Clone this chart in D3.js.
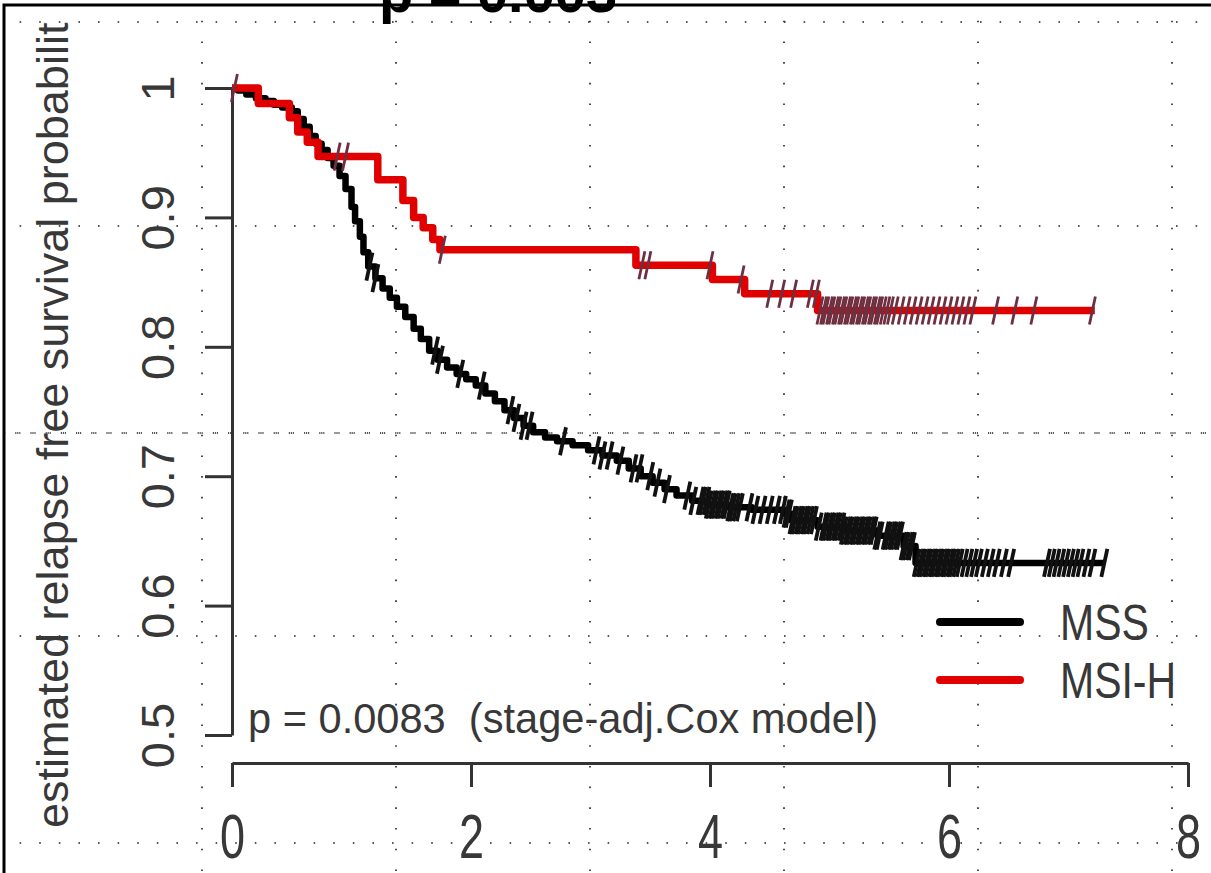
<!DOCTYPE html>
<html><head><meta charset="utf-8">
<script src="https://cdn.jsdelivr.net/npm/d3@7"></script>
<style>body{margin:0;background:#fff}svg{display:block}</style>
</head><body>
<script>
// ---------- data ----------
const xTicks = [0, 2, 4, 6, 8];
const yTicks = [0.5, 0.6, 0.7, 0.8, 0.9, 1];
const yTickLabels = ["0.5", "0.6", "0.7", "0.8", "0.9", "1"];
const seriesNames = ["MSS", "MSI-H"];
const seriesColors = ["#000000", "#e00000"];

// MSS: step event times (years) and survival after each step
const mssTimes = [0.05,0.12,0.2,0.28,0.35,0.42,0.5,0.55,0.6,0.65,0.7,0.75,0.8,0.85,0.9,0.95,1.0,1.03,1.07,1.1,1.14,1.2,1.26,1.32,1.38,1.45,1.52,1.58,1.65,1.72,1.8,1.88,1.96,2.04,2.12,2.2,2.28,2.36,2.44,2.52,2.62,2.72,2.85,2.98,3.1,3.22,3.32,3.42,3.52,3.62,3.72,3.85,3.98,4.15,4.35,4.62,4.68,4.9,5.12,5.4,5.62,5.72];
const mssSurv  = [0.998,0.995,0.992,0.99,0.987,0.985,0.982,0.976,0.97,0.963,0.957,0.952,0.946,0.94,0.932,0.922,0.908,0.897,0.885,0.873,0.862,0.853,0.845,0.838,0.831,0.823,0.814,0.806,0.797,0.79,0.784,0.779,0.775,0.77,0.764,0.758,0.751,0.745,0.739,0.734,0.73,0.727,0.724,0.72,0.716,0.712,0.706,0.7,0.695,0.69,0.685,0.681,0.678,0.676,0.674,0.671,0.666,0.661,0.658,0.654,0.646,0.633];
const mssEnd = 7.3;
const mssCensor = [1.15,1.2,1.7,1.74,1.91,2.09,2.33,2.38,2.44,2.49,2.77,3.05,3.1,3.16,3.25,3.36,3.41,3.5,3.56,3.64,3.81,3.86,
  3.92,3.94,3.97,3.99,4.02,4.04,4.07,4.09,4.12,4.14,4.17,4.19,4.22,4.25,4.33,4.38,4.44,4.5,4.56,
  4.61,4.64,4.66,4.69,4.71,4.74,4.76,4.79,4.81,4.84,4.87,4.91,
  4.95,4.97,5.0,5.02,5.05,5.07,5.1,5.12,5.15,5.17,5.2,5.22,5.25,5.27,5.3,5.32,5.35,5.37,5.4,5.42,
  5.47,5.49,5.52,5.54,5.57,5.59,5.62,5.64,5.67,5.69,
  5.73,5.76,5.78,5.81,5.83,5.86,5.88,5.91,5.93,5.96,5.98,6.01,6.03,6.06,6.09,
  6.13,6.17,6.21,6.25,6.3,6.35,6.4,6.46,6.52,
  6.82,6.86,6.9,6.94,6.98,7.02,7.06,7.1,7.15,7.2,7.3];

// MSI-H
const msiTimes = [0.22,0.48,0.55,0.63,0.72,1.22,1.43,1.52,1.6,1.68,1.74,3.38,4.02,4.29,4.9];
const msiSurv  = [0.988,0.977,0.966,0.958,0.947,0.929,0.913,0.9,0.892,0.883,0.875,0.863,0.852,0.841,0.828];
const msiEnd = 7.22;
const msiCensor = [0.02,0.88,0.95,1.76,3.43,3.48,4.0,4.26,4.5,4.6,4.7,4.84,4.89,
  4.92,4.95,4.97,5.0,5.02,5.05,5.07,5.1,5.12,5.15,5.17,5.2,5.22,5.25,5.27,5.3,5.32,5.35,5.37,5.4,5.42,5.45,5.48,5.51,
  5.55,5.6,5.65,5.7,5.75,5.8,5.85,5.9,5.95,6.0,6.05,6.1,6.15,6.2,6.39,6.55,6.71,7.2];

const pText = "p = 0.0083  (stage-adj.Cox model)";
const yTitle = "estimated relapse free survival probability";
const topTitle = "p = 0.003";

// ---------- drawing ----------
const W = 1211, H = 873;
const svg = d3.select("body").append("svg").attr("width", W).attr("height", H);
const FONT = "'Liberation Sans', Arial, sans-serif";
const TXT = "#383838";

const defs = svg.append("defs");
defs.append("clipPath").attr("id", "frame")
  .append("rect").attr("x", 5).attr("y", 6).attr("width", W).attr("height", H);
defs.append("clipPath").attr("id", "ytitle")
  .append("rect").attr("x", 0).attr("y", 22).attr("width", 120).attr("height", H);

const root = svg.append("g").attr("clip-path", "url(#frame)");
root.append("rect").attr("width", W).attr("height", H).attr("fill", "#fff");

// background dotted overlay grid
const gridX = [202, 396, 590, 784, 978, 1172];
const gridY = [22, 226, 636, 843];
root.selectAll("line.gv").data(gridX).join("line")
  .attr("x1", d => d).attr("x2", d => d).attr("y1", 0).attr("y2", H)
  .attr("stroke", "#222").attr("stroke-width", 1.6).attr("stroke-dasharray", "1.6,19.1");
root.selectAll("line.gh").data(gridY).join("line")
  .attr("x1", 0).attr("x2", W).attr("y1", d => d).attr("y2", d => d)
  .attr("stroke", "#222").attr("stroke-width", 1.6).attr("stroke-dasharray", "1.6,18");
root.append("line").attr("x1", 0).attr("x2", W).attr("y1", 433).attr("y2", 433)
  .attr("stroke", "#222").attr("stroke-width", 1.4).attr("stroke-dasharray", "1.2,0.8,1.2,0.8,1.2,10");

const x = d3.scaleLinear().domain([0, 8]).range([232, 1188]);
const y = d3.scaleLinear().domain([0.5, 1]).range([735, 88]);

// axes
const ax = root.append("g").attr("transform", "translate(0,763)")
  .call(d3.axisBottom(x).tickValues(xTicks).tickSize(24).tickSizeOuter(0).tickFormat(d3.format("d")));
ax.select(".domain").attr("stroke", "#333").attr("stroke-width", 3);
ax.selectAll(".tick line").attr("stroke", "#333").attr("stroke-width", 3);
ax.selectAll(".tick text").attr("y", 0).attr("dy", 0)
  .attr("transform", "translate(0,95) scale(1,1.38)")
  .attr("font-family", FONT).attr("font-size", 45).attr("fill", TXT);

const ay = root.append("g").attr("transform", "translate(232,0)")
  .call(d3.axisLeft(y).tickValues(yTicks).tickSize(27).tickSizeOuter(0)
    .tickFormat((d, i) => yTickLabels[i]));
ay.select(".domain").attr("stroke", "#333").attr("stroke-width", 3);
ay.selectAll(".tick line").attr("stroke", "#333").attr("stroke-width", 3);
ay.selectAll(".tick text").attr("x", null).attr("dy", null)
  .attr("transform", "translate(-58,0) rotate(-90)")
  .attr("text-anchor", "middle")
  .attr("font-family", FONT).attr("font-size", 47).attr("fill", TXT);

// curves
function stepPoints(times, surv, end) {
  const pts = [[0, 1]];
  times.forEach((t, i) => pts.push([t, surv[i]]));
  pts.push([end, surv[surv.length - 1]]);
  return pts;
}
function survAt(times, surv, t) {
  let s = 1;
  for (let i = 0; i < times.length; i++) if (times[i] <= t) s = surv[i];
  return s;
}
const line = d3.line().x(d => x(d[0])).y(d => y(d[1])).curve(d3.curveStepAfter);

const series = [
  {times: mssTimes, surv: mssSurv, end: mssEnd, cens: mssCensor, color: seriesColors[0], w: 6.5, tick: "#111", tw: 3.8},
  {times: msiTimes, surv: msiSurv, end: msiEnd, cens: msiCensor, color: seriesColors[1], w: 7.5, tick: "#6e3040", tw: 2.8}
];
series.forEach(s => {
  const g = root.append("g");
  g.append("path").datum(stepPoints(s.times, s.surv, s.end))
    .attr("fill", "none").attr("stroke", s.color).attr("stroke-width", s.w)
    .attr("stroke-linejoin", "round").attr("d", line);
  g.selectAll("line.c").data(s.cens).join("line")
    .attr("x1", d => x(d) - 3).attr("x2", d => x(d) + 3)
    .attr("y1", d => y(survAt(s.times, s.surv, d)) + 14)
    .attr("y2", d => y(survAt(s.times, s.surv, d)) - 14)
    .attr("stroke", s.tick).attr("stroke-width", s.tw);
});

// p-value text
root.append("text").attr("x", 248).attr("y", 733)
  .attr("font-family", FONT).attr("font-size", 42).attr("fill", TXT)
  .attr("textLength", 630).attr("lengthAdjust", "spacingAndGlyphs")
  .attr("xml:space", "preserve").style("white-space", "pre").text(pText);

// legend
const legY = [622, 680];
seriesNames.forEach((n, i) => {
  root.append("line").attr("x1", 940).attr("x2", 1020).attr("y1", legY[i]).attr("y2", legY[i])
    .attr("stroke", seriesColors[i]).attr("stroke-width", 8).attr("stroke-linecap", "round");
  root.append("text").attr("transform", `translate(1060,${legY[i] + 18}) scale(1,1.22)`)
    .attr("font-family", FONT).attr("font-size", 41).attr("fill", TXT).text(n);
});

// y title
root.append("g").attr("clip-path", "url(#ytitle)")
  .append("text").attr("transform", "translate(68,828) rotate(-90)")
  .attr("font-family", FONT).attr("font-size", 45).attr("fill", TXT).text(yTitle);

// cut-off top title
svg.append("text").attr("x", 498).attr("y", 12).attr("text-anchor", "middle")
  .attr("font-family", FONT).attr("font-weight", "bold").attr("font-size", 56).attr("fill", "#000").text(topTitle);

// frame
svg.append("rect").attr("x", 4).attr("y", 5).attr("width", W + 10).attr("height", H + 10)
  .attr("fill", "none").attr("stroke", "#000").attr("stroke-width", 3);
</script>
</body></html>
